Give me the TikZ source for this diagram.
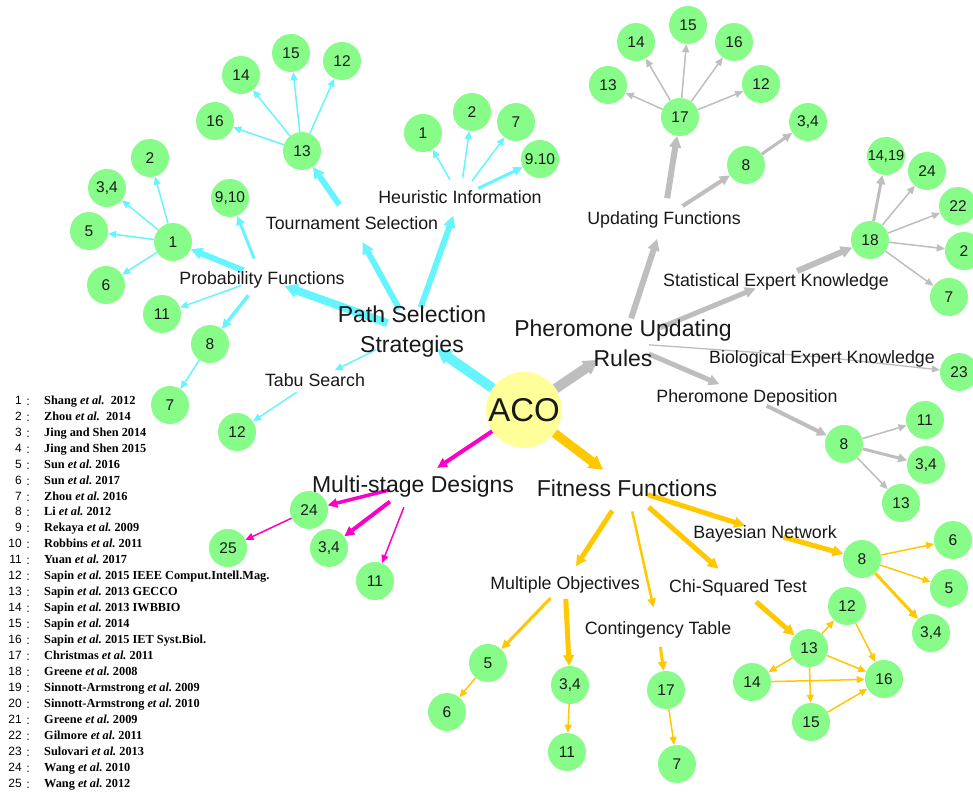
\documentclass[tikz,border=0pt]{standalone}
\usepackage{fontspec}
\setmainfont{Liberation Sans}
\newfontfamily\legfont{Liberation Serif}
\usetikzlibrary{arrows.meta,backgrounds}
\newcommand\myetal{\textit{et al.}}
\definecolor{cy}{RGB}{102,245,255}
\definecolor{gy}{RGB}{190,190,190}
\definecolor{mg}{RGB}{250,0,200}
\definecolor{og}{RGB}{255,200,0}
\definecolor{gfill}{RGB}{136,252,136}
\definecolor{acofill}{RGB}{255,255,153}
\definecolor{txt}{RGB}{25,25,25}
\tikzset{
  gn/.style={circle, fill=gfill, draw=none, minimum size=38pt, inner sep=0pt, text=txt, font=\fontsize{15.5}{15.5}\selectfont},
  lbl/.style={inner sep=0pt, text=txt, font=\fontsize{17.8}{20}\selectfont, text height=12.8pt, text depth=0pt},
  big/.style={inner sep=0pt, text=txt, align=center, font=\fontsize{23}{30}\selectfont},
  ed/.style={line width=#1pt, -{Triangle[length=7pt 0.75,width=5.5pt 1.0]}},
  legnum/.style={inner sep=0pt, anchor=east, text height=8.5pt, text depth=0pt, font=\fontsize{12}{12}\selectfont, text=black},
  legcol/.style={inner sep=0pt, text height=8.5pt, text depth=0pt, font=\fontsize{12}{12}\selectfont, text=black},
  legtxt/.style={inner sep=0pt, anchor=west, text height=8.5pt, text depth=0pt, font=\legfont\bfseries\fontsize{12.3}{13}\selectfont, text=black},
}
\begin{document}
\begin{tikzpicture}[x=1pt,y=-1pt]
\useasboundingbox (0,0) rectangle (973,793);

% centre
\node[circle, fill=acofill, minimum size=76pt, inner sep=0pt, text=txt, font=\fontsize{33}{33}\selectfont] (aco) at (524,410) {ACO};

% labels
\node[big] (pss) at (412,332) {Path Selection\\Strategies};
\node[lbl] (pf) at (262,278) {Probability Functions};
\node[lbl] (ts) at (352,223) {Tournament Selection};
\node[lbl] (hi) at (460,197) {Heuristic Information};
\node[lbl] (tb) at (315,380) {Tabu Search};
\node[big] (pur) at (623,343) {Pheromone Updating\\Rules};
\node[lbl] (uf) at (664,218) {Updating Functions};
\node[lbl] (sek) at (776,280) {Statistical Expert Knowledge};
\node[lbl] (bek) at (822,357) {Biological Expert Knowledge};
\node[lbl] (pd) at (747,396) {Pheromone Deposition};
\node[big, text height=16.5pt, text depth=0pt] (msd) at (413,484) {Multi-stage Designs};
\node[big, text height=16.5pt, text depth=0pt] (ff) at (627,488) {Fitness Functions};
\node[lbl] (bn) at (765,532) {Bayesian Network};
\node[lbl] (mo) at (565,583) {Multiple Objectives};
\node[lbl] (cst) at (738,586) {Chi-Squared Test};
\node[lbl] (ct) at (658,628) {Contingency Table};

% cyan group nodes
\node[gn] (c13) at (302,151) {13};
\node[gn] (c16) at (215,121) {16};
\node[gn] (c14) at (241,75) {14};
\node[gn] (c15) at (291,53) {15};
\node[gn] (c12) at (342,61) {12};
\node[gn] (c1) at (173,242) {1};
\node[gn] (c2) at (150,158) {2};
\node[gn] (c34) at (107,188) {3,4};
\node[gn] (c5) at (89,231) {5};
\node[gn] (c6) at (106,285) {6};
\node[gn] (c11) at (162,314) {11};
\node[gn] (c910) at (230,198) {9,10};
\node[gn] (c8) at (210,344) {8};
\node[gn] (c7) at (170,405) {7};
\node[gn] (ct12) at (237,432) {12};
\node[gn] (h1) at (423,133) {1};
\node[gn] (h2) at (472,112) {2};
\node[gn] (h7) at (516,122) {7};
\node[gn] (h910) at (540,159) {9.10};

% grey group nodes
\node[gn] (g17) at (680,117) {17};
\node[gn] (g13) at (608,85) {13};
\node[gn] (g14) at (636,42) {14};
\node[gn] (g15) at (688,25) {15};
\node[gn] (g16) at (734,42) {16};
\node[gn] (g12) at (761,84) {12};
\node[gn] (g8) at (746,165) {8};
\node[gn] (g34) at (808,122) {3,4};
\node[gn] (g18) at (870,240) {18};
\node[gn, font=\fontsize{14.5}{14.5}\selectfont] (g1419) at (886,156) {14,19};
\node[gn] (g24) at (927,171) {24};
\node[gn] (g22) at (958,206) {22};
\node[gn] (g2) at (964,251) {2};
\node[gn] (g7) at (949,297) {7};
\node[gn] (g23) at (959,372) {23};
\node[gn] (d8) at (844,444) {8};
\node[gn] (d11) at (925,420) {11};
\node[gn] (d34) at (926,465) {3,4};
\node[gn] (d13) at (901,503) {13};

% magenta group nodes
\node[gn] (m24) at (309,510) {24};
\node[gn] (m34) at (329,548) {3,4};
\node[gn] (m11) at (375,581) {11};
\node[gn] (m25) at (228,548) {25};

% orange group nodes
\node[gn] (o8) at (862,559) {8};
\node[gn] (o6) at (953,540) {6};
\node[gn] (o5) at (949,588) {5};
\node[gn] (o34) at (931,633) {3,4};
\node[gn] (o12) at (847,606) {12};
\node[gn] (o13) at (809,648) {13};
\node[gn] (o14) at (752,682) {14};
\node[gn] (o16) at (884,679) {16};
\node[gn] (o15) at (811,722) {15};
\node[gn] (o5b) at (488,663) {5};
\node[gn] (o6b) at (447,712) {6};
\node[gn] (o34b) at (570,685) {3,4};
\node[gn] (o11) at (567,752) {11};
\node[gn] (o17) at (666,690) {17};
\node[gn] (o7) at (677,764) {7};

% legend
\foreach \i/\t in {1/{Shang \myetal\ \ 2012},2/{Zhou \myetal\ \ 2014},3/{Jing and Shen 2014},4/{Jing and Shen 2015},5/{Sun \myetal\ 2016},6/{Sun \myetal\ 2017},7/{Zhou \myetal\ 2016},8/{Li \myetal\ 2012},9/{Rekaya \myetal\ 2009},10/{Robbins \myetal\ 2011},11/{Yuan \myetal\ 2017},12/{Sapin \myetal\ 2015 IEEE Comput.Intell.Mag.},13/{Sapin \myetal\ 2013 GECCO},14/{Sapin \myetal\ 2013 IWBBIO},15/{Sapin \myetal\ 2014},16/{Sapin \myetal\ 2015 IET Syst.Biol.},17/{Christmas \myetal\ 2011},18/{Greene \myetal\ 2008},19/{Sinnott-Armstrong \myetal\ 2009},20/{Sinnott-Armstrong \myetal\ 2010},21/{Greene \myetal\ 2009},22/{Gilmore \myetal\ 2011},23/{Sulovari \myetal\ 2013},24/{Wang \myetal\ 2010},25/{Wang \myetal\ 2012}}{
  \node[legnum] (ln\i) at (22,{400+(\i-1)*15.96}) {\i};
  \node[legcol] (lc\i) at (28,{401+(\i-1)*15.96}) {:};
  \node[legtxt] (lt\i) at (44,{400+(\i-1)*15.96}) {\t};
}

\begin{scope}[on background layer]
\fill[white] (0,0) rectangle (973,793);
% cyan
\draw[cy,ed=10,shorten >=30pt] (aco) -- (pss.center);
\draw[cy,ed=8,shorten <=26pt,shorten >=24pt] (pss.center) -- (pf.center);
\draw[cy,ed=6,shorten <=26pt,shorten >=22pt] (pss.center) -- (ts.center);
\draw[cy,ed=6,shorten <=26pt,shorten >=20pt] (pss.center) -- (hi.center);
\draw[cy,ed=1.5,shorten <=40pt,shorten >=22pt] (pss.center) -- (tb.center);
\draw[cy,ed=1.5,shorten <=22pt] (tb.center) -- (ct12);
\draw[cy,ed=6,shorten <=20pt] (pf.center) -- (c1);
\draw[cy,ed=3,shorten <=21pt] (pf.center) -- (c910);
\draw[cy,ed=1.5,shorten <=22pt] (pf.center) -- (c11);
\draw[cy,ed=3.5,shorten <=22pt] (pf.center) -- (c8);
\draw[cy,ed=1.5] (c8) -- (c7);
\foreach \n in {c2,c34,c5,c6} \draw[cy,ed=1.5] (c1) -- (\n);
\draw[cy,ed=6,shorten <=22pt] (ts.center) -- (c13);
\foreach \n in {c16,c14,c15,c12} \draw[cy,ed=1.5] (c13) -- (\n);
\foreach \n in {h1,h2,h7} \draw[cy,ed=1.5,shorten <=20pt] (hi.center) -- (\n);
\draw[cy,ed=3,shorten <=20pt] (hi.center) -- (h910);
% grey
\draw[gy,ed=10,shorten >=30pt] (aco) -- (pur.center);
\draw[gy,ed=6,shorten <=26pt,shorten >=22pt] (pur.center) -- (uf.center);
\draw[gy,ed=6,shorten <=20pt] (uf.center) -- (g17);
\draw[gy,ed=4,shorten <=22pt] (uf.center) -- (g8);
\draw[gy,ed=3] (g8) -- (g34);
\foreach \n in {g13,g14,g15,g16,g12} \draw[gy,ed=1.5] (g17) -- (\n);
\draw[gy,ed=5,shorten <=40pt,shorten >=22pt] (pur.center) -- (sek.center);
\draw[gy,ed=6,shorten <=23pt] (sek.center) -- (g18);
\draw[gy,ed=3] (g18) -- (g1419);
\foreach \n in {g24,g22,g2,g7} \draw[gy,ed=1.5] (g18) -- (\n);
\draw[gy,line width=1.3pt,shorten <=26pt] (pur.center) -- (bek.center);
\draw[gy,ed=1.3] (bek.center) -- (g23);
\draw[gy,ed=5,shorten <=28pt,shorten >=30pt] (pur.center) -- (pd.center);
\draw[gy,ed=4,shorten <=22pt] (pd.center) -- (d8);
\draw[gy,ed=1.5] (d8) -- (d11);
\draw[gy,ed=3] (d8) -- (d34);
\draw[gy,ed=1.5] (d8) -- (d13);
% magenta
\draw[mg,ed=4,shorten >=29pt] (aco) -- (msd.center);
\draw[mg,ed=3.5,shorten <=24pt] (msd.center) -- (m24);
\draw[mg,ed=4,shorten <=29pt] (msd.center) -- (m34);
\draw[mg,ed=1.5,shorten <=25pt] (msd.center) -- (m11);
\draw[mg,ed=1.5] (m24) -- (m25);
% orange
\draw[og,ed=9,shorten >=30pt] (aco) -- (ff.center);
\draw[og,ed=5,shorten <=22pt,shorten >=21pt] (ff.center) -- (bn.center);
\draw[og,ed=5,shorten <=19pt] (bn.center) -- (o8);
\draw[og,ed=1.5] (o8) -- (o6);
\draw[og,ed=1.5] (o8) -- (o5);
\draw[og,ed=3] (o8) -- (o34);
\draw[og,ed=5,shorten <=27pt,shorten >=20pt] (ff.center) -- (mo.center);
\draw[og,ed=2.5,shorten <=24pt,shorten >=21pt] (ff.center) -- (ct.center);
\draw[og,ed=5,shorten <=29pt,shorten >=26pt] (ff.center) -- (cst.center);
\draw[og,ed=5,shorten <=24pt] (cst.center) -- (o13);
\foreach \n in {o12,o14,o15,o16} \draw[og,ed=1.5] (o13) -- (\n);
\foreach \n in {o12,o14,o15} \draw[og,ed=1.5] (\n) -- (o16);
\draw[og,ed=3,shorten <=21pt] (mo.center) -- (o5b);
\draw[og,ed=5,shorten <=16pt] (mo.center) -- (o34b);
\draw[og,ed=1.5] (o5b) -- (o6b);
\draw[og,ed=1.5] (o34b) -- (o11);
\draw[og,ed=3,shorten <=19pt] (ct.center) -- (o17);
\draw[og,ed=1.5] (o17) -- (o7);
\end{scope}
\end{tikzpicture}
\end{document}
